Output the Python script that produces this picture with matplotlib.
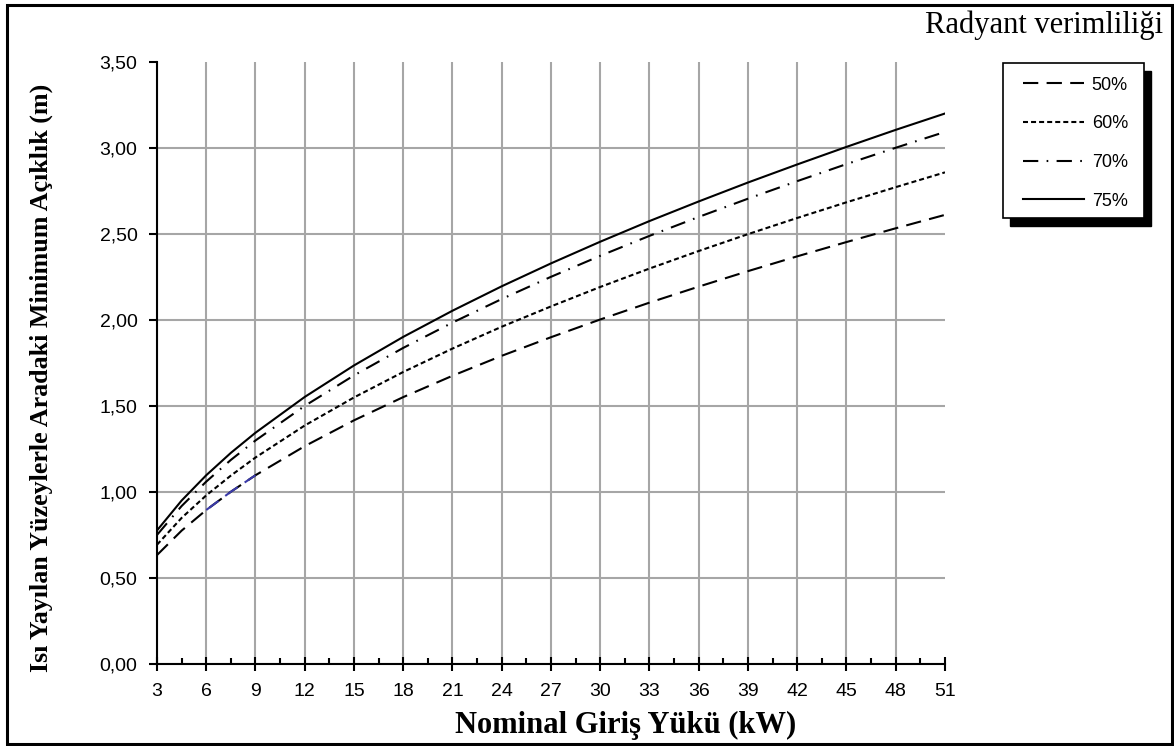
import matplotlib
matplotlib.use('Agg')
import matplotlib.pyplot as plt
from matplotlib.patches import Rectangle
from matplotlib.ticker import FuncFormatter, MultipleLocator

# values
load_kw = [3, 4.5, 6, 7.5, 9, 12, 15, 18, 21, 24, 27, 30, 33, 36, 39, 42, 45, 48, 51]
gap_50 = [0.633, 0.775, 0.895, 1.001, 1.097, 1.266, 1.416, 1.551, 1.675, 1.791,
          1.899, 2.002, 2.100, 2.193, 2.283, 2.369, 2.452, 2.532, 2.610]
gap_60 = [0.693, 0.849, 0.980, 1.095, 1.200, 1.386, 1.549, 1.697, 1.833, 1.960,
          2.078, 2.191, 2.298, 2.400, 2.498, 2.592, 2.683, 2.771, 2.857]
gap_70 = [0.750, 0.918, 1.060, 1.186, 1.299, 1.500, 1.677, 1.837, 1.984, 2.121,
          2.250, 2.372, 2.488, 2.598, 2.704, 2.806, 2.905, 3.000, 3.092]
gap_75 = [0.776, 0.950, 1.097, 1.227, 1.344, 1.552, 1.735, 1.901, 2.053, 2.195,
          2.328, 2.454, 2.574, 2.688, 2.798, 2.903, 3.005, 3.104, 3.199]
labels = ['50%', '60%', '70%', '75%']
x_ticks = list(range(3, 52, 3))
y_ticks = [0, 0.5, 1.0, 1.5, 2.0, 2.5, 3.0, 3.5]

plt.rcParams['lines.scale_dashes'] = False
plt.rcParams['font.family'] = 'Liberation Sans'
plt.rcParams['font.size'] = 14
W, H = 1174, 746
fig = plt.figure(figsize=(W / 100, H / 100), dpi=100)
ax = fig.add_axes([157 / W, 1 - 664 / H, (945 - 157) / W, (664 - 61.7) / H])

styles = [(0, (11, 6)), (0, (3.6, 2.2)), (0, (11, 6, 1.2, 6)), '-']
for ys, lab, ls in zip([gap_50, gap_60, gap_70, gap_75], labels, styles):
    ax.plot(load_kw, ys, color='black', lw=1.5, linestyle=ls, label=lab, zorder=3)
# the odd blue stretch on the 50% line
ax.plot(load_kw[2:5], gap_50[2:5], color='#3a3aa8', lw=1.5, linestyle=(0, (11, 6)), zorder=4)

ax.set_xlim(3, 51)
ax.set_ylim(0, 3.5)
ax.set_xticks(x_ticks)
ax.set_yticks(y_ticks)
ax.xaxis.set_minor_locator(MultipleLocator(1.5))
ax.yaxis.set_major_formatter(FuncFormatter(lambda v, p: ('%.2f' % v).replace('.', ',')))

for s in ['top', 'right']:
    ax.spines[s].set_visible(False)
for s in ['left', 'bottom']:
    ax.spines[s].set_linewidth(1.5)

ax.grid(True, color='#a6a6a6', lw=1.5, zorder=1)
ax.set_axisbelow(True)
ax.xaxis.get_major_ticks()[-1].gridline.set_visible(False)
ax.yaxis.get_major_ticks()[-1].gridline.set_visible(False)

ax.tick_params(axis='x', which='major', direction='inout', length=10, width=1.5, pad=9,
               labelsize=14)
ax.tick_params(axis='x', which='minor', direction='in', length=4, width=1.5)
ax.tick_params(axis='y', which='major', direction='out', length=6, width=1.5, pad=8,
               labelsize=14)

fig.text(626 / W, 1 - 733 / H, 'Nominal Giriş Yükü (kW)', family='Liberation Serif',
         weight='bold', size=22, ha='center', va='baseline')
fig.text(41 / W, 1 - 378 / H, 'Isı Yayılan Yüzeylerle Aradaki Minimum Açıklık (m)',
         family='Liberation Serif', weight='bold', size=18.7, rotation=90,
         ha='center', va='center')
fig.text(1163 / W, 1 - 33 / H, 'Radyant verimliliği', family='Liberation Serif',
         size=22, ha='right', va='baseline')

# legend box with hard shadow
bx0, bx1, by0, by1 = 1003, 1144, 63, 218
fig.patches.append(Rectangle(((bx0 + 7) / W, 1 - (by1 + 8) / H), (bx1 - bx0) / W, (by1 - by0) / H,
                             transform=fig.transFigure, facecolor='black', edgecolor='black', zorder=5))
fig.patches.append(Rectangle((bx0 / W, 1 - by1 / H), (bx1 - bx0) / W, (by1 - by0) / H,
                             transform=fig.transFigure, facecolor='white', edgecolor='black',
                             lw=1.2, zorder=6))
leg = fig.legend(loc='center', bbox_to_anchor=((bx0 + bx1) / 2 / W + 2 / W, 1 - 143 / H),
                 frameon=False, prop={'family': 'Liberation Sans', 'size': 13},
                 handlelength=3.4, handletextpad=0.4, labelspacing=1.2)
leg.set_zorder(7)

# outer border
fig.patches.append(Rectangle((7 / W, 1 - 744 / H), (1172 - 7) / W, (744 - 5) / H,
                             transform=fig.transFigure, fill=False, edgecolor='black', lw=2.2))

fig.savefig('out.png', dpi=100)
